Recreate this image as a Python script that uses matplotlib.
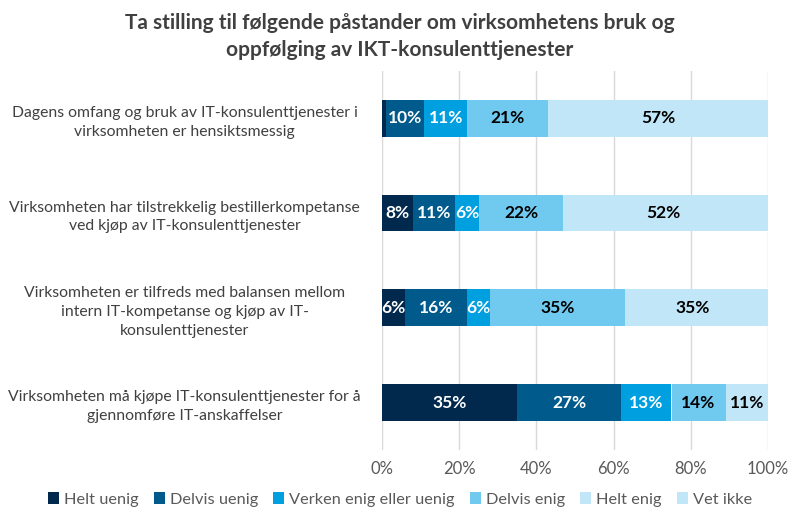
import matplotlib
matplotlib.use("Agg")
import matplotlib.pyplot as plt
import numpy as np

plt.rcParams["font.family"] = ["Lato", "DejaVu Sans"]

categories = [
    "Dagens omfang og bruk av IT-konsulenttjenester i\nvirksomheten er hensiktsmessig",
    "Virksomheten har tilstrekkelig bestillerkompetanse\nved kjøp av IT-konsulenttjenester",
    "Virksomheten er tilfreds med balansen mellom\nintern IT-kompetanse og kjøp av IT-\nkonsulenttjenester",
    "Virksomheten må kjøpe IT-konsulenttjenester for å\ngjennomføre IT-anskaffelser",
]
series = ["Helt uenig", "Delvis uenig", "Verken enig eller uenig", "Delvis enig", "Helt enig", "Vet ikke"]
helt_uenig = [1, 8, 6, 35]
delvis_uenig = [10, 11, 16, 27]
verken = [11, 6, 6, 13]
delvis_enig = [21, 22, 35, 14]
helt_enig = [57, 52, 35, 11]
vet_ikke = [0, 1, 2, 0]

colors = ["#00294d", "#005a8c", "#009fe0", "#70c9ef", "#c1e6f7", "#c1e6f7"]
text_colors = ["white", "white", "white", "black", "black", "black"]

data = np.array([helt_uenig, delvis_uenig, verken, delvis_enig, helt_enig, vet_ikke], dtype=float)
shares = data / data.sum(axis=0)

fig = plt.figure(figsize=(8, 5.25), dpi=100)
ax = fig.add_axes([0.4775, 0.143, 0.4825, 0.722])

y = np.arange(len(categories))
left = np.zeros(len(categories))
for i, name in enumerate(series):
    bars = ax.barh(y, shares[i], left=left, height=0.39, color=colors[i], label=name)
    for j, b in enumerate(bars):
        if data[i, j] >= 5:
            ax.text(left[j] + shares[i, j] / 2, y[j], f"{int(data[i, j])}%",
                    ha="center", va="center", color=text_colors[i],
                    fontsize=12.5, fontweight="bold")
    left += shares[i]

ax.set_ylim(len(categories) - 0.5, -0.5)
ax.set_xlim(0, 1)
ax.set_xticks(np.linspace(0, 1, 6))
ax.set_xticklabels([f"{v}%" for v in range(0, 101, 20)], fontsize=12, color="#595959")
ax.set_yticks(y)
ax.set_yticklabels(categories, fontsize=11.3, color="#404040", ha="center",
                   multialignment="center", linespacing=1.45)
ax.tick_params(axis="y", length=0, pad=142)
ax.tick_params(axis="x", length=0, pad=8)
ax.grid(axis="x", color="#d9d9d9", linewidth=1)
ax.set_axisbelow(True)
for s in ax.spines.values():
    s.set_visible(False)

fig.suptitle("Ta stilling til følgende påstander om virksomhetens bruk og\noppfølging av IKT-konsulenttjenester",
             x=0.5, y=0.975, fontsize=15, fontweight="bold", color="#404040", linespacing=1.45)

fig.legend(loc="lower center", bbox_to_anchor=(0.5, 0.007), ncol=6, frameon=False,
           fontsize=11.8, handlelength=0.7, handleheight=0.7, handletextpad=0.3,
           columnspacing=0.9, labelcolor="#595959")

fig.savefig("out.png", dpi=100)
